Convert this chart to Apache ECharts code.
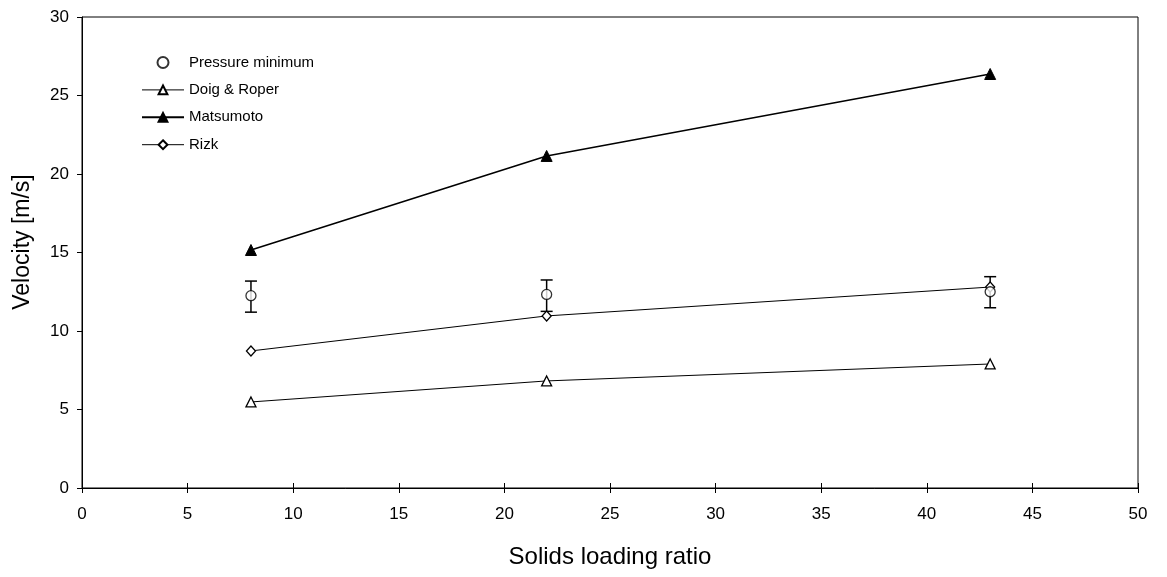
<!DOCTYPE html>
<html><head><meta charset="utf-8">
<script src="https://cdn.jsdelivr.net/npm/echarts@6/dist/echarts.min.js"></script>
<style>html,body{margin:0;padding:0;background:#fff}#c{width:1167px;height:577px}</style>
</head><body><div id="c"></div>
<script>
var loadingRatio = [8, 22, 43];
var pressureMin = [12.25, 12.33, 12.5];
var pressureErrLow = [11.2, 11.25, 11.48];
var pressureErrHigh = [13.18, 13.25, 13.46];
var doigRoper = [5.48, 6.82, 7.9];
var matsumoto = [15.16, 21.15, 26.37];
var rizk = [8.73, 10.96, 12.8];
var xTitle = 'Solids loading ratio';
var yTitle = 'Velocity [m/s]';

function pairs(ys){ return loadingRatio.map(function(x,i){ return [x, ys[i]]; }); }
var errData = loadingRatio.map(function(x,i){ return [x, pressureErrLow[i], pressureErrHigh[i]]; });

var font = 'Liberation Sans, Arial, sans-serif';
var chart = echarts.init(document.getElementById('c'));
chart.setOption({
  animation: false,
  grid: {left: 82, right: 29, top: 17, bottom: 89, show: true, borderColor: '#000', borderWidth: 1},
  graphic: [{
    type: 'text', x: 23, y: 242, rotation: Math.PI / 2,
    style: {text: yTitle, font: '23px ' + font, fill: '#000', align: 'center', verticalAlign: 'middle'}
  }],
  legend: {
    orient: 'vertical', left: 141, top: 55, padding: 0, itemWidth: 42, itemHeight: 11, itemGap: 12.4,
    textStyle: {fontFamily: font, fontSize: 15, lineHeight: 15, color: '#000'},
    data: [
      {name: 'Pressure minimum'},
      {name: 'Doig & Roper', lineStyle: {width: 1}},
      {name: 'Matsumoto', lineStyle: {width: 2}},
      {name: 'Rizk', lineStyle: {width: 1}}
    ]
  },
  xAxis: [{
    type: 'value', min: 0, max: 50, interval: 5,
    name: xTitle, nameLocation: 'middle', nameGap: 57,
    nameTextStyle: {fontFamily: font, fontSize: 24, color: '#000'},
    axisLine: {lineStyle: {color: '#000', width: 1}},
    axisTick: {show: true, length: 5, lineStyle: {color: '#000'}},
    axisLabel: {fontFamily: font, fontSize: 17, color: '#000', margin: 18},
    splitLine: {show: false}
  },{
    type: 'value', min: 0, max: 50, interval: 5, position: 'bottom',
    axisLine: {show: false}, axisLabel: {show: false}, splitLine: {show: false},
    axisTick: {show: true, inside: true, length: 5, lineStyle: {color: '#000'}}
  }],
  yAxis: {
    type: 'value', min: 0, max: 30, interval: 5,
    axisLine: {show: true, lineStyle: {color: '#000', width: 1}},
    axisTick: {show: true, length: 5, lineStyle: {color: '#000'}},
    axisLabel: {fontFamily: font, fontSize: 17, color: '#000', margin: 13},
    splitLine: {show: false}
  },
  series: [
    {
      name: 'Pressure minimum', type: 'scatter', data: pairs(pressureMin),
      symbol: 'circle', symbolSize: 10, z: 4,
      itemStyle: {color: '#fff', borderColor: '#000', borderWidth: 1.3}
    },
    {
      name: 'errbar', type: 'custom', data: errData, z: 3,
      renderItem: function(params, api){
        var x = api.value(0);
        var lo = api.coord([x, api.value(1)]);
        var hi = api.coord([x, api.value(2)]);
        var w = 6;
        var st = {stroke: '#000', lineWidth: 1.5};
        return {type: 'group', children: [
          {type: 'line', shape: {x1: lo[0], y1: lo[1], x2: hi[0], y2: hi[1]}, style: st},
          {type: 'line', shape: {x1: lo[0]-w, y1: lo[1], x2: lo[0]+w, y2: lo[1]}, style: st},
          {type: 'line', shape: {x1: hi[0]-w, y1: hi[1], x2: hi[0]+w, y2: hi[1]}, style: st}
        ]};
      }
    },
    {
      name: 'Doig & Roper', type: 'line', data: pairs(doigRoper),
      symbol: 'triangle', symbolSize: 10,
      lineStyle: {color: '#000', width: 1},
      itemStyle: {color: '#fff', borderColor: '#000', borderWidth: 1.3}
    },
    {
      name: 'Matsumoto', type: 'line', data: pairs(matsumoto),
      symbol: 'triangle', symbolSize: 11,
      lineStyle: {color: '#000', width: 1.6},
      itemStyle: {color: '#000', borderColor: '#000', borderWidth: 1}
    },
    {
      name: 'Rizk', type: 'line', data: pairs(rizk),
      symbol: 'diamond', symbolSize: [9, 10],
      lineStyle: {color: '#000', width: 1},
      itemStyle: {color: '#fff', borderColor: '#000', borderWidth: 1.3}
    }
  ]
});
</script></body></html>
